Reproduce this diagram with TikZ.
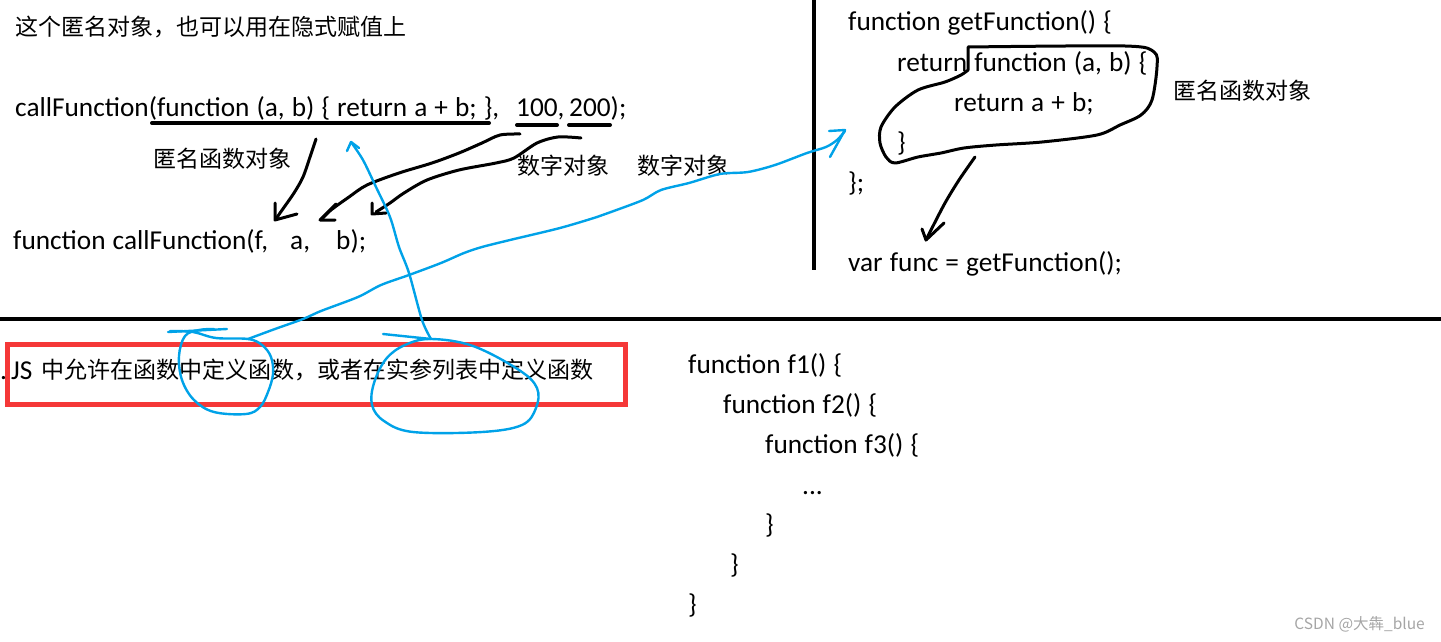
\documentclass[tikz,border=0pt]{standalone}
\usepackage{fontspec}
\setmainfont[WordSpace=1.15]{Carlito}
\newfontfamily\cjk{Noto Sans CJK SC}
\definecolor{penblue}{RGB}{0,162,232}
\definecolor{boxred}{RGB}{245,56,56}
\definecolor{markgray}{RGB}{165,165,165}

\begin{document}
\begin{tikzpicture}[x=1pt, y=-1pt,
  code/.style={anchor=base west, inner sep=0pt, font=\fontsize{27.3}{31}\selectfont},
  cn/.style={anchor=west, inner sep=0pt, font=\cjk\fontsize{23}{27}\selectfont},
  pen/.style={line width=3pt, line cap=round, line join=round},
  bluepen/.style={line width=2.4pt, color=penblue, line cap=round, line join=round},
  rule/.style={line width=4pt}]

\useasboundingbox (0,0) rectangle (1441,642);

% dividing lines
\draw[rule] (0,319) -- (1441,319);
\draw[line width=3.5pt] (814,0) -- (814,270);

% call site (top left)
\node[cn] (hint) at (15,27) {这个匿名对象，也可以用在隐式赋值上};
\node[code] (call) at (15,117) {callFunction(function (a, b) \{ return a + b; \},};
\node[code] (hundred) at (516,117) {100,};
\node[code] (twohundred) at (569,117) {200);};
\node[cn] (anonlbl) at (153,159) {匿名函数对象};
\node[cn] (numlbl1) at (517,166) {数字对象};
\node[cn] (numlbl2) at (637,166) {数字对象};
\node[code] (decl) at (13,249) {function callFunction(f,};
\node[code] (parama) at (290,249) {a,};
\node[code] (paramb) at (336,249) {b);};

% underlines
\draw[rule, line cap=round] (152,123) -- (489,123);
\draw[rule, line cap=round] (517,125) -- (557,125);
\draw[rule, line cap=round] (569,125) -- (610,125);

% hand drawn arrows (black)
\draw[pen] plot[smooth] coordinates {(316,139) (310,157) (303,177) (294,193) (280,213) (276,219)};
\draw[pen] (275,203) -- (275,220) -- (297,214);
\draw[pen] plot[smooth] coordinates {(520,134) (500,135) (482,143) (459,153) (432,163) (399,173) (367,185) (349,197) (331,210) (322,219)};
\draw[pen] (336,204) -- (320,220) -- (335,220);
\draw[pen] plot[smooth] coordinates {(581,138) (558,137) (537,143) (514,158) (496,163) (459,170) (427,180) (404,193) (390,203) (376,212)};
\draw[pen] (372,203) -- (372,214) -- (386,213);

% getFunction (top right)
\node[code] (getfn) at (848,31) {function getFunction() \{};
\node[code] (retfn) at (897,72) {return function (a, b) \{};
\node[code] (retsum) at (954,111) {return a + b;};
\node[code] (innerclose) at (897,151) {\}};
\node[code] (outerclose) at (848,191) {\};};
\node[code] (assign) at (848,271) {var func = getFunction();};
\node[cn] (anonlbl2) at (1173,91) {匿名函数对象};

% outline round the returned function
\draw[pen] plot[smooth, tension=0.5] coordinates {(968,47) (1125,46) (1154,52) (1157,67) (1152,100) (1141,115) (1120,125) (1097,135) (1042,142) (996,145) (964,148) (941,153) (918,157) (895,163) (886,157) (880,143) (881,127) (895,107) (918,90) (945,82) (961,75) (968,70)} -- (968,47);
\draw[pen] plot[smooth] coordinates {(975,157) (959,180) (945,203) (931,230) (926,240)};
\draw[pen] (922,229) -- (926,240) -- (944,223);

% note in red box
\draw[line width=5pt, boxred] (7,344) rectangle (625,404);
\node[code] (dot) at (0,379) {.};
\node[code] (js) at (11,379) {JS};
\node[cn] (note) at (41,370) {中允许在函数中定义函数，或者在实参列表中定义函数};

% blue marks
\draw[bluepen] (168,332) -- (227,329);
\draw[bluepen] plot[smooth, tension=0.6] coordinates {(170,331) (193,332) (216,338) (248,339) (262,345) (271,357) (273,374) (268,392) (260,407) (246,414) (214,412) (194,400) (182,380) (179,356) (185,336) (199,330) (214,329)};
\draw[bluepen] (383,334) -- (431,339);
\draw[bluepen] plot[smooth cycle, tension=0.6] coordinates {(431,339) (473,346) (519,370) (537,388) (536,408) (522,425) (482,432) (413,432) (384,421) (372,405) (374,383) (386,359) (405,345)};
\draw[bluepen] plot[smooth] coordinates {(431,339) (422,320) (409,273) (399,247) (390,217) (376,187) (363,160) (351,142)};
\draw[bluepen] (347,151) -- (351,142) -- (359,148);
\draw[bluepen] plot[smooth] coordinates {(248,339) (275,329) (303,319) (321,311) (358,297) (381,285) (409,275) (441,263) (464,253) (482,247) (510,240) (560,228) (597,217) (611,212) (643,200) (661,190) (689,183) (720,174) (748,172) (775,165) (807,153) (826,147) (837,140) (845,131)};
\draw[bluepen] (829,131) -- (845,130) -- (830,157);

% nested functions (bottom)
\node[code] (fone) at (688,373) {function f1() \{};
\node[code] (ftwo) at (723,413) {function f2() \{};
\node[code] (fthree) at (765,453) {function f3() \{};
\node[code] (body) at (802,494) {...};
\node[code] (closethree) at (765,533) {\}};
\node[code] (closetwo) at (730,573) {\}};
\node[code] (closeone) at (688,613) {\}};

% watermark
\node[anchor=east, inner sep=0pt, text=markgray, font=\cjk\fontsize{15.5}{18}\selectfont] (mark) at (1425,624) {CSDN @大犇\_blue};

\end{tikzpicture}
\end{document}
